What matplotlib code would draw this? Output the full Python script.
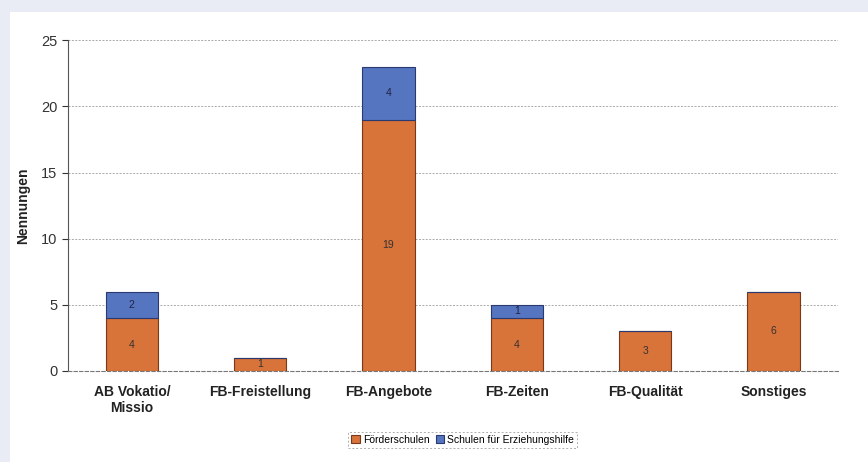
import numpy as np
import matplotlib.pyplot as plt

plt.rcParams['font.family'] = ['Liberation Sans', 'DejaVu Sans']

categories = ["AB Vokatio/\nMissio", "FB-Freistellung", "FB-Angebote", "FB-Zeiten", "FB-Qualität", "Sonstiges"]
foerder = [4, 1, 19, 4, 3, 6]
erziehung = [2, 0, 4, 1, 0, 0]

c_orange = '#d8733a'
c_blue = '#5575c0'

fig = plt.figure(figsize=(8.68, 4.62), dpi=100)
fig.patch.set_facecolor('#e9ecf4')
# white panel (slightly inset like the scan)
fig.add_artist(plt.Rectangle((0.012, 0.0), 0.988, 0.975, transform=fig.transFigure,
                             facecolor='white', edgecolor='none', zorder=0))
ax = fig.add_axes([0.078, 0.197, 0.887, 0.716])
x = np.arange(len(categories))
w = 0.41
ax.bar(x, foerder, w, color=c_orange, edgecolor='#7a3a1a', linewidth=0.8, label='Förderschulen', zorder=3)
ax.bar(x, erziehung, w, bottom=foerder, color=c_blue, edgecolor='#2a3a70', linewidth=0.8,
       label='Schulen für Erziehungshilfe', zorder=3)

for i in range(len(x)):
    if foerder[i] > 0:
        ax.text(x[i], foerder[i] / 2, str(foerder[i]), ha='center', va='center', fontsize=7.5,
                color='#333333', zorder=4)
    if erziehung[i] > 0:
        ax.text(x[i], foerder[i] + erziehung[i] / 2, str(erziehung[i]), ha='center', va='center',
                fontsize=7.5, color='#222244', zorder=4)

ax.set_xlim(-0.5, 5.5)
ax.set_ylim(0, 25)
ax.set_yticks([0, 5, 10, 15, 20, 25])
ax.yaxis.grid(True, linestyle=(0, (2, 1.5)), color='#aaaaaa', linewidth=0.7, zorder=0)
ax.set_xticks(x)
ax.set_xticklabels(categories, fontsize=10, fontweight='bold', color='#222222')
ax.tick_params(axis='y', labelsize=10.5, colors='#333333', length=4)
ax.tick_params(axis='x', length=0, pad=10)
for s in ['top', 'right']:
    ax.spines[s].set_visible(False)
ax.spines['left'].set_color('#555555')
ax.spines['bottom'].set_color('#777777')
ax.spines['bottom'].set_linestyle((0, (3, 2)))
ax.set_ylabel('Nennungen', fontsize=10, fontweight='bold', color='#222222', labelpad=8)

leg = fig.legend(loc='center', bbox_to_anchor=(0.533, 0.048), ncol=2, fontsize=7.5,
                 frameon=True, handlelength=0.8, handleheight=0.8, handletextpad=0.3,
                 columnspacing=0.6, borderpad=0.3, fancybox=False)
leg.get_frame().set_edgecolor('#999999')
leg.get_frame().set_linestyle((0, (2, 2)))
leg.get_frame().set_linewidth(0.7)

fig.savefig('out.png', dpi=100, facecolor=fig.get_facecolor())
